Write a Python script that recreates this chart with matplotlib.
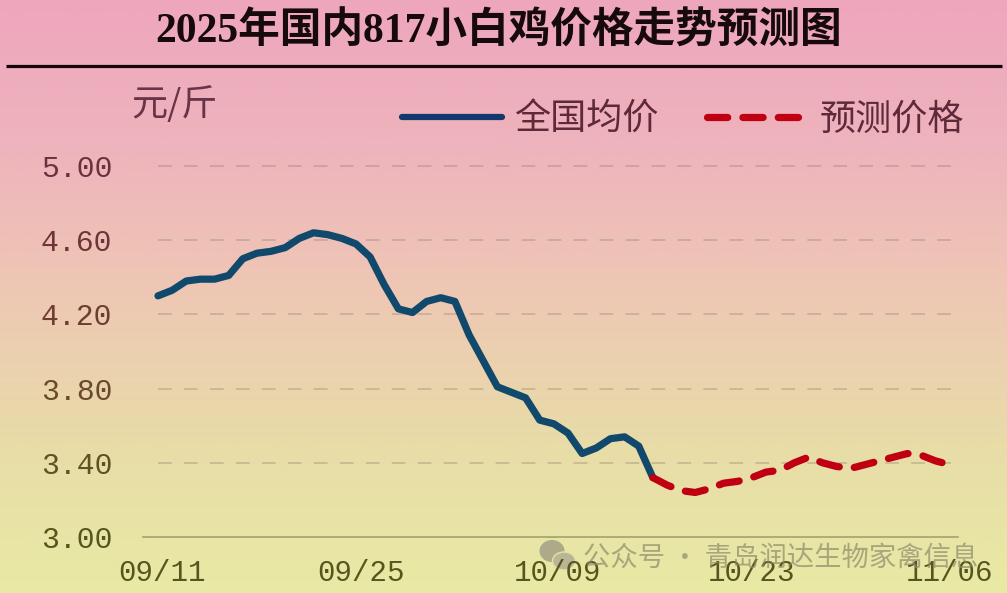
# Chart of the 817 broiler price, national average and forecast
import matplotlib
matplotlib.use('Agg')
import matplotlib.pyplot as plt
import numpy as np
from matplotlib.colors import LinearSegmentedColormap
from matplotlib.patches import Ellipse
from matplotlib.transforms import ScaledTranslation

W, H = 1007, 593

title = '2025年国内817小白鸡价格走势预测图'
unit = '元/斤'
avg_label = '全国均价'
fc_label = '预测价格'
watermark = '公众号 · 青岛润达生物家禽信息'

# days since 09/11
avg_days = list(range(0, 36))
avg_price = [4.30, 4.33, 4.38, 4.39, 4.39, 4.41, 4.50, 4.53, 4.54, 4.56, 4.61, 4.64,
             4.63, 4.61, 4.58, 4.51, 4.36, 4.23, 4.21, 4.27, 4.29, 4.27, 4.09, 3.95,
             3.81, 3.78, 3.75, 3.63, 3.61, 3.56, 3.45, 3.48, 3.53, 3.54, 3.49, 3.32]
fc_days = list(range(35, 57))
fc_price = [3.32, 3.28, 3.25, 3.24, 3.26, 3.29, 3.30, 3.32, 3.35, 3.36, 3.40, 3.43,
            3.40, 3.38, 3.37, 3.39, 3.41, 3.43, 3.45, 3.44, 3.41, 3.39]

x_ticks = [0, 14, 28, 42, 56]
x_labels = ['09/11', '09/25', '10/09', '10/23', '11/06']
x_label_shift = [4, 5, 4, 0, 0]  # the labels do not sit quite under their dates
y_ticks = [3.0, 3.4, 3.8, 4.2, 4.6, 5.0]
y_colors = ['#55551f', '#5c5223', '#6a4a2a', '#6e3c30', '#6e3438', '#6e3040']
bg_colors = ['#eea6be', '#eeb4bc', '#eec8b4', '#e8dca8', '#e8eaa4']

plt.rcParams['font.family'] = ['Noto Sans CJK SC', 'DejaVu Sans']


def px(x, y):
    """Figure fraction of a pixel position, y from the top"""
    return x / W, 1 - y / H


fig = plt.figure(figsize=(W / 100, H / 100), dpi=100)

# Background gradient
bg = fig.add_axes([0, 0, 1, 1], zorder=0)
cmap = LinearSegmentedColormap.from_list('bg', bg_colors)
bg.imshow(np.linspace(0, 1, 256).reshape(-1, 1), cmap=cmap, aspect='auto', extent=[0, W, H, 0])
bg.set_xlim(0, W)
bg.set_ylim(H, 0)
bg.axis('off')
bg.plot([6, 1002], [65.5, 65.5], color='#120408', lw=2.3, solid_capstyle='butt')

# Watermark icon
bg.add_patch(Ellipse((552, 551), 25, 22, fc='#acaa88', ec='none'))
bg.add_patch(Ellipse((564, 561), 23, 18, fc='#b8b694', ec='#e4e4a8', lw=1))

# Plot area, 143-958 by 166-537 in pixels
ax = fig.add_axes([143 / W, 1 - 537 / H, (958 - 143) / W, (537 - 166) / H], zorder=1)
ax.patch.set_alpha(0)
ax.set_xlim(-1.06, 56.58)
ax.set_ylim(3.0, 5.0)

for v in y_ticks[1:]:
    ax.plot([0, 56.9], [v, v], color='#7d6d6a', alpha=.36, lw=1.1, dashes=(9, 8), zorder=1,
            clip_on=False)

avg_line, = ax.plot(avg_days, avg_price, color='#10496b', lw=5.2, label=avg_label,
                    solid_joinstyle='round', solid_capstyle='round', zorder=3)
fc_line, = ax.plot(fc_days, fc_price, color='#c00012', lw=5.2, label=fc_label,
                   dashes=(2.8, 2.1), dash_capstyle='round', dash_joinstyle='round', zorder=4)

for side in ['top', 'right', 'left']:
    ax.spines[side].set_visible(False)
ax.spines['bottom'].set_color('#a3a36c')
ax.spines['bottom'].set_linewidth(1.2)

ax.set_xticks(x_ticks, x_labels, family=['Liberation Mono'], fontsize=21, color='#55551f')
ax.set_yticks(y_ticks, ['%.2f' % v for v in y_ticks], family=['Liberation Mono'], fontsize=21.5)
for label, col in zip(ax.get_yticklabels(), y_colors):
    label.set_color(col)
ax.tick_params(axis='both', length=0)
ax.tick_params(axis='x', pad=16)
ax.tick_params(axis='y', pad=22)
for label, shift in zip(ax.get_xticklabels(), x_label_shift):
    label.set_transform(label.get_transform() + ScaledTranslation(shift / 100, 0, fig.dpi_scale_trans))

leg = ax.legend(ncols=2, frameon=False, fontsize=26, handlelength=2.78, handletextpad=.33,
                columnspacing=1.33, loc='center left', borderaxespad=0, borderpad=0,
                bbox_to_anchor=((402 - 143) / 815, 1 + (166 - 120) / 371))
for text in leg.get_texts():
    text.set_color('#5e2a3a')
leg.get_lines()[0].set_color('#12386c')
leg.get_lines()[0].set_linewidth(4.5)

# Title, unit and watermark
fig.text(*px(499, 31), title, ha='center', va='center', fontsize=30, fontweight='bold',
         family=['Liberation Serif', 'Noto Sans CJK SC'], color='#160a0c', zorder=5)
fig.text(*px(174, 105), unit, ha='center', va='center', fontsize=26, color='#6a3448', zorder=5)
fig.text(*px(781, 558), watermark, ha='center', va='center', fontsize=19.7, color='#8d8b6c',
         alpha=.7, zorder=5)

fig.savefig('out.png', dpi=100)
